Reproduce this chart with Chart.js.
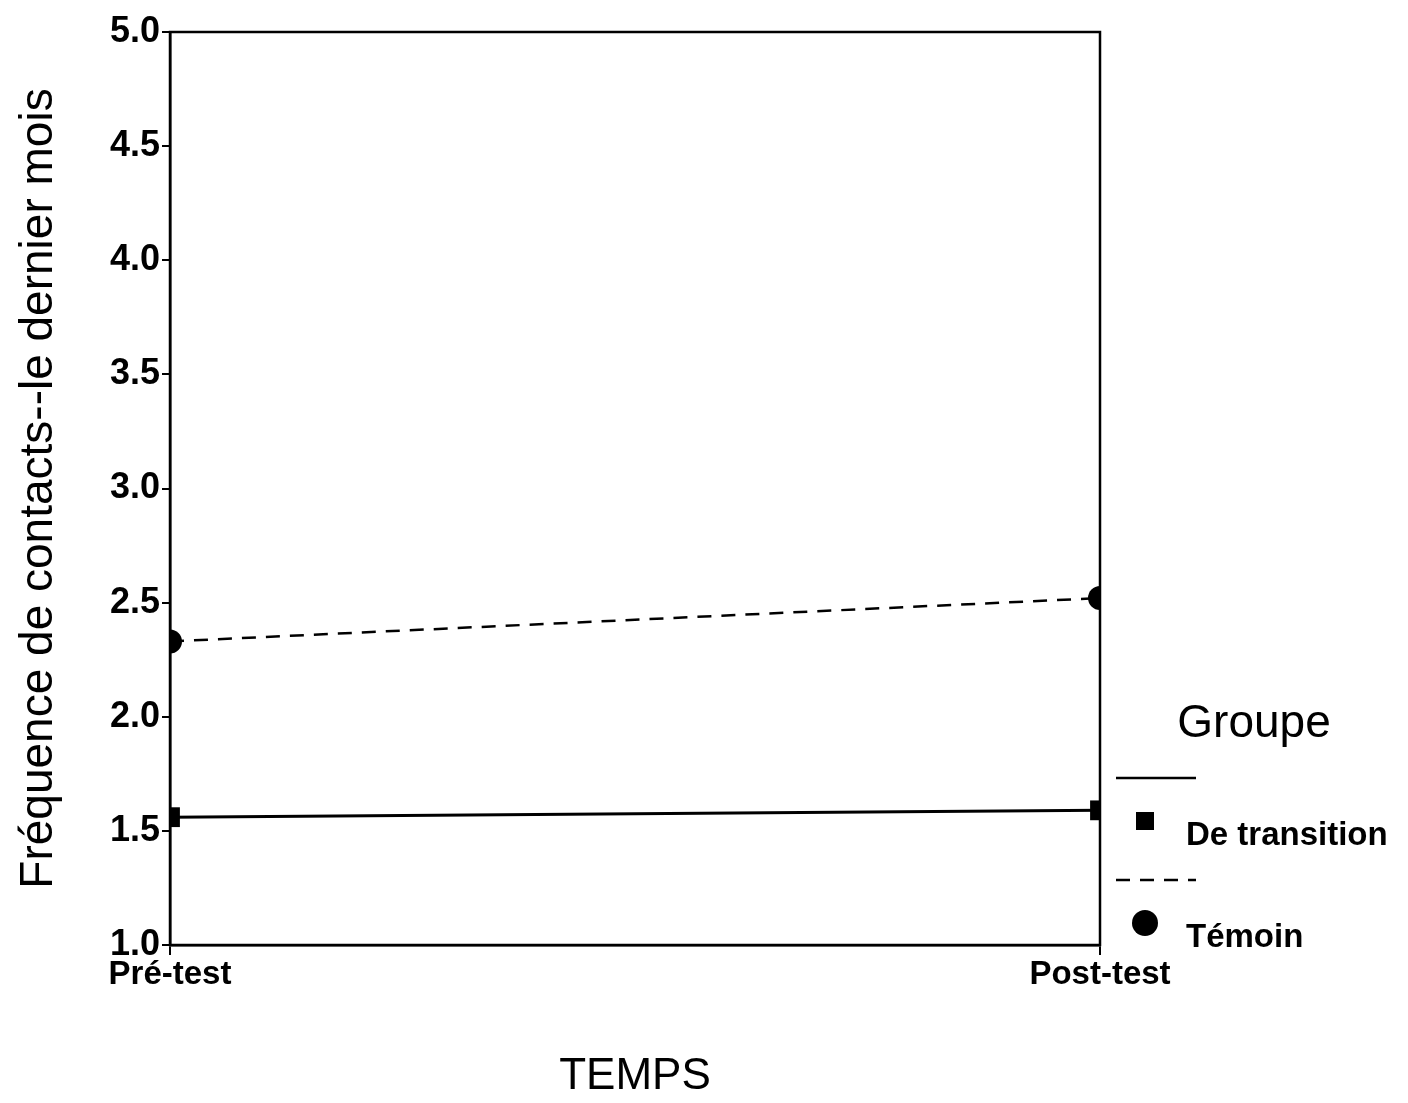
<!DOCTYPE html>
<html>
<head>
<meta charset="utf-8">
<script src="https://cdn.jsdelivr.net/npm/chart.js@4.4.0/dist/chart.umd.min.js"></script>
<style>
  html, body { margin: 0; padding: 0; background: #fff; }
  #wrap { width: 1408px; height: 1103px; }
</style>
</head>
<body>
<div id="wrap"><canvas id="groupeChart" width="1408" height="1103"></canvas></div>
<script>
// Données
const temps = ['Pré-test', 'Post-test'];
const deTransition = [1.56, 1.59];
const temoin = [2.33, 2.52];
const yTicks = [1.0, 1.5, 2.0, 2.5, 3.0, 3.5, 4.0, 4.5, 5.0];

const police = '"Liberation Sans", Arial, sans-serif';

// Cadre complet autour de la zone du graphique
const cadre = {
  id: 'cadre',
  afterDraw(chart) {
    const { ctx, chartArea: a } = chart;
    ctx.save();
    ctx.strokeStyle = '#000';
    ctx.lineWidth = 2.5;
    ctx.strokeRect(a.left, a.top, a.right - a.left, a.bottom - a.top);
    ctx.restore();
  }
};

// Légende "Groupe" dessinée à droite
const legendeGroupe = {
  id: 'legendeGroupe',
  afterDraw(chart) {
    const ctx = chart.ctx;
    const ds = chart.data.datasets;
    ctx.save();
    ctx.fillStyle = '#000';
    ctx.strokeStyle = '#000';
    ctx.textBaseline = 'middle';
    ctx.textAlign = 'center';
    ctx.font = '46px ' + police;
    ctx.fillText('Groupe', 1254, 724);

    ctx.textAlign = 'left';
    ctx.font = 'bold 33px ' + police;
    const y0 = 778;
    ds.forEach((d, i) => {
      const y = y0 + i * 102;
      ctx.lineWidth = 2.5;
      ctx.setLineDash(d.borderDash || []);
      ctx.beginPath();
      ctx.moveTo(1116, y);
      ctx.lineTo(1196, y);
      ctx.stroke();
      ctx.setLineDash([]);
      const my = y + 43;
      ctx.beginPath();
      if (d.pointStyle === 'rect') {
        ctx.rect(1136, my - 9, 18, 18);
      } else {
        ctx.arc(1145, my, 13, 0, Math.PI * 2);
      }
      ctx.fill();
      ctx.fillText(d.label, 1186, my + 15);
    });
    ctx.restore();
  }
};

const config = {
  type: 'line',
  data: {
    labels: temps,
    datasets: [
      {
        label: 'De transition',
        data: deTransition,
        borderColor: '#000',
        backgroundColor: '#000',
        borderWidth: 3,
        pointStyle: 'rect',
        pointRadius: 14,
        pointBorderWidth: 0,
        clip: 0,
        fill: false
      },
      {
        label: 'Témoin',
        data: temoin,
        borderColor: '#000',
        backgroundColor: '#000',
        borderWidth: 2.5,
        borderDash: [14, 10],
        pointStyle: 'circle',
        pointRadius: 12,
        pointBorderWidth: 0,
        clip: 0,
        fill: false
      }
    ]
  },
  options: {
    responsive: false,
    animation: false,
    layout: { padding: { top: 32, right: 308, left: 0, bottom: 0 } },
    plugins: {
      legend: { display: false },
      tooltip: { enabled: false }
    },
    scales: {
      x: {
        offset: false,
        grid: { display: true, drawOnChartArea: false, drawTicks: true, tickLength: 10, color: '#000', lineWidth: 2 },
        border: { display: true, color: '#000', width: 2.5 },
        ticks: { color: '#000', font: { family: police, size: 33, weight: 'bold' }, padding: 0, maxRotation: 0 },
        title: { display: true, text: 'TEMPS', color: '#000', font: { family: police, size: 44 }, padding: { top: 0, bottom: 0 } },
        afterFit(scale) { scale.height = 158; }
      },
      y: {
        min: 1.0,
        max: 5.0,
        afterBuildTicks(scale) { scale.ticks = yTicks.map(v => ({ value: v })); },
        grid: { display: true, drawOnChartArea: false, drawTicks: true, tickLength: 8, color: '#000', lineWidth: 2 },
        border: { display: true, color: '#000', width: 2.5 },
        ticks: {
          color: '#000',
          font: { family: police, size: 36, weight: 'bold' },
          padding: 2,
          callback: v => Number(v).toFixed(1)
        },
        title: { display: true, text: 'Fréquence de contacts--le dernier mois', color: '#000', font: { family: police, size: 46 }, padding: { top: 12, bottom: 0 } },
        afterFit(scale) { scale.width = 170; }
      }
    }
  },
  plugins: [cadre, legendeGroupe]
};

const groupeChart = new Chart(document.getElementById('groupeChart'), config);
</script>
</body>
</html>
